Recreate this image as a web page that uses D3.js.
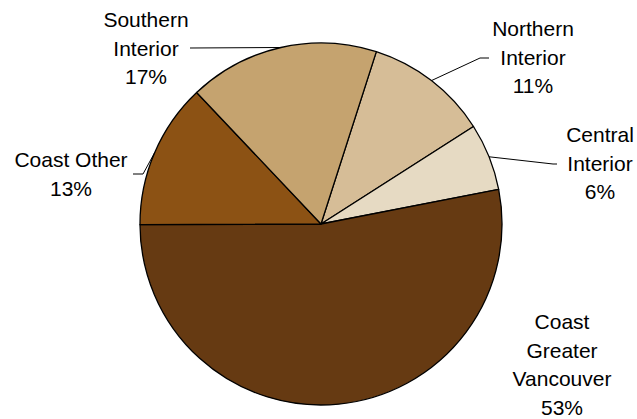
<!DOCTYPE html>
<html>
<head>
<meta charset="utf-8">
<script src="https://cdn.jsdelivr.net/npm/d3@7"></script>
<style>
  html, body { margin: 0; padding: 0; background: #fff; }
  svg { display: block; }
  text { font-family: "Liberation Sans", Arial, sans-serif; font-size: 21px; fill: #000; }
</style>
</head>
<body>
<svg id="chart" width="637" height="419"></svg>
<script>
// Regional shares, clockwise from the Northern Interior slice
const regions = ["Northern Interior", "Central Interior", "Coast Greater Vancouver", "Coast Other", "Southern Interior"];
const shares = [11, 6, 53, 13, 17];
const labelLines = [
  ["Northern", "Interior"],
  ["Central", "Interior"],
  ["Coast", "Greater", "Vancouver"],
  ["Coast Other"],
  ["Southern", "Interior"]
];
const sliceColors = ["#d6bd97", "#e6dac3", "#663a12", "#8c5214", "#c5a36f"];

// Label placement: text centre x, first baseline y, leader elbow and end
const labelLayout = [
  { x: 533, y: 36, elbow: [480, 58], end: [489, 58] },
  { x: 600, y: 142, elbow: [553, 164], end: [557, 164] },
  { x: 562, y: 329, elbow: null, end: null },
  { x: 71, y: 167, elbow: [143, 174], end: [133, 174] },
  { x: 146, y: 27, elbow: null, end: [190, 48] }
];

const cx = 321, cy = 224, radius = 181;
const startAngle = 17.8 * Math.PI / 180;
const lineHeight = 28.5;

const svg = d3.select("#chart");
const g = svg.append("g").attr("transform", `translate(${cx},${cy})`);

const pie = d3.pie().sort(null).value(d => d)
  .startAngle(startAngle).endAngle(startAngle + 2 * Math.PI);
const arcs = pie(shares);
const arc = d3.arc().innerRadius(0).outerRadius(radius);

g.selectAll("path.slice")
  .data(arcs)
  .join("path")
  .attr("class", "slice")
  .attr("d", arc)
  .attr("fill", (d, i) => sliceColors[i])
  .attr("stroke", "#000")
  .attr("stroke-width", 1.3)
  .attr("stroke-linejoin", "round");

// Leader lines from the slice's outer midpoint
arcs.forEach((d, i) => {
  const L = labelLayout[i];
  if (!L.end) return;
  const mid = (d.startAngle + d.endAngle) / 2;
  const p0 = [cx + radius * Math.sin(mid), cy - radius * Math.cos(mid)];
  const pts = [p0];
  if (L.elbow) pts.push(L.elbow);
  pts.push(L.end);
  svg.append("path")
    .attr("d", d3.line()(pts))
    .attr("fill", "none")
    .attr("stroke", "#000")
    .attr("stroke-width", 1);
});

// Labels: name lines followed by the percentage
arcs.forEach((d, i) => {
  const L = labelLayout[i];
  const lines = labelLines[i].concat([d3.format("d")(shares[i]) + "%"]);
  const t = svg.append("text").attr("text-anchor", "middle");
  lines.forEach((s, k) => {
    t.append("tspan").attr("x", L.x).attr("y", L.y + k * lineHeight).text(s);
  });
});
</script>
</body>
</html>
